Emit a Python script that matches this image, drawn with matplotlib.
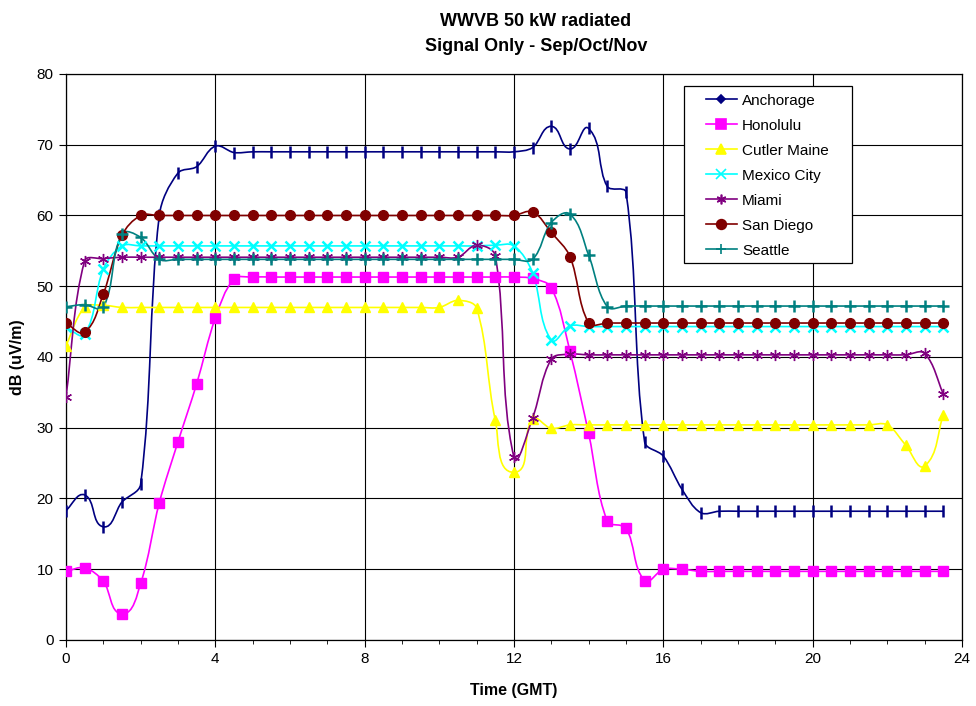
import numpy as np
import matplotlib
matplotlib.use('agg')
import matplotlib.pyplot as plt
from matplotlib.path import Path
from matplotlib.patches import PathPatch, Rectangle
from matplotlib.lines import Line2D

plt.rcParams['font.family'] = ['Liberation Sans', 'DejaVu Sans']

hours = [i * 0.5 for i in range(48)]

anchorage = [18.3, 20.5, 16.0, 19.5, 22.0, 60.0, 66.0, 66.9, 69.8, 68.9,
             69.0, 69.0, 69.0, 69.0, 69.0, 69.0, 69.0, 69.0, 69.0, 69.0,
             69.0, 69.0, 69.0, 69.0, 69.0, 69.6, 72.6, 69.4, 72.3, 64.1,
             63.3, 28.0, 26.0, 21.3, 18.0, 18.2, 18.2, 18.2, 18.2, 18.2,
             18.2, 18.2, 18.2, 18.2, 18.2, 18.2, 18.2, 18.2]
honolulu = [9.7, 10.2, 8.3, 3.7, 8.0, 19.4, 28.0, 36.2, 45.5, 51.0,
            51.3, 51.3, 51.3, 51.3, 51.3, 51.3, 51.3, 51.3, 51.3, 51.3,
            51.3, 51.3, 51.3, 51.3, 51.3, 51.1, 49.8, 40.8, 29.2, 16.8,
            15.8, 8.4, 10.0, 10.0, 9.7, 9.7, 9.7, 9.7, 9.7, 9.7,
            9.7, 9.7, 9.7, 9.7, 9.7, 9.7, 9.7, 9.7]
cutler = [41.6, 47.0, 47.3, 47.0, 47.0, 47.0, 47.0, 47.0, 47.0, 47.0,
          47.0, 47.0, 47.0, 47.0, 47.0, 47.0, 47.0, 47.0, 47.0, 47.0,
          47.0, 48.0, 46.9, 31.1, 23.7, 31.2, 29.9, 30.4, 30.4, 30.4,
          30.4, 30.4, 30.4, 30.4, 30.4, 30.4, 30.4, 30.4, 30.4, 30.4,
          30.4, 30.4, 30.4, 30.4, 30.4, 27.5, 24.6, 31.8]
mexico = [44.2, 43.2, 52.4, 55.7, 55.7, 55.7, 55.7, 55.7, 55.7, 55.7,
          55.7, 55.7, 55.7, 55.7, 55.7, 55.7, 55.7, 55.7, 55.7, 55.7,
          55.7, 55.7, 55.7, 55.8, 55.7, 51.9, 42.4, 44.4, 44.3, 44.3,
          44.3, 44.3, 44.3, 44.3, 44.3, 44.3, 44.3, 44.3, 44.3, 44.3,
          44.3, 44.3, 44.3, 44.3, 44.3, 44.3, 44.3, 44.3]
miami = [34.4, 53.6, 53.9, 54.1, 54.1, 54.1, 54.1, 54.1, 54.1, 54.1,
         54.1, 54.1, 54.1, 54.1, 54.1, 54.1, 54.1, 54.1, 54.1, 54.1,
         54.1, 54.1, 55.8, 54.3, 25.8, 31.4, 39.7, 40.4, 40.3, 40.3,
         40.3, 40.3, 40.3, 40.3, 40.3, 40.3, 40.3, 40.3, 40.3, 40.3,
         40.3, 40.3, 40.3, 40.3, 40.3, 40.3, 40.5, 34.8]
san_diego = [44.8, 43.5, 48.9, 57.2, 60.0, 60.0, 60.0, 60.0, 60.0, 60.0,
             60.0, 60.0, 60.0, 60.0, 60.0, 60.0, 60.0, 60.0, 60.0, 60.0,
             60.0, 60.0, 60.0, 60.0, 60.0, 60.5, 57.6, 54.2, 44.8, 44.8,
             44.8, 44.8, 44.8, 44.8, 44.8, 44.8, 44.8, 44.8, 44.8, 44.8,
             44.8, 44.8, 44.8, 44.8, 44.8, 44.8, 44.8, 44.8]
seattle = [47.1, 47.4, 47.0, 57.4, 56.9, 53.8, 53.8, 53.8, 53.8, 53.8,
           53.8, 53.8, 53.8, 53.8, 53.8, 53.8, 53.8, 53.8, 53.8, 53.8,
           53.8, 53.8, 53.8, 53.8, 53.8, 53.8, 59.0, 60.2, 54.4, 47.1,
           47.2, 47.2, 47.2, 47.2, 47.2, 47.2, 47.2, 47.2, 47.2, 47.2,
           47.2, 47.2, 47.2, 47.2, 47.2, 47.2, 47.2, 47.2]

series = [
    ('Anchorage', anchorage, '#000080', '|', 'D', 8),
    ('Honolulu', honolulu, '#FF00FF', 's', 's', 7),
    ('Cutler Maine', cutler, '#FFFF00', '^', '^', 7),
    ('Mexico City', mexico, '#00FFFF', 'x', 'x', 7),
    ('Miami', miami, '#800080', (6, 2, 0), (6, 2, 0), 8),
    ('San Diego', san_diego, '#800000', 'o', 'o', 7),
    ('Seattle', seattle, '#008080', '+', '+', 8),
]

# rough pixels per data unit, used only to shape the smoothing
SX, SY = 896 / 24.0, 566 / 80.0


def smooth_path(x, y, t=1 / 3.0):
    # smoothed line like a spreadsheet chart: bezier through each point,
    # tangent lengths scaled by the neighbouring segment lengths
    p = np.column_stack([np.asarray(x) * SX, np.asarray(y) * SY])
    n = len(p)
    tang = np.zeros_like(p)
    for i in range(n):
        d = p[min(i + 1, n - 1)] - p[max(i - 1, 0)]
        L = np.hypot(*d)
        if L > 0:
            tang[i] = d / L
    verts = [p[0]]
    codes = [Path.MOVETO]
    for i in range(n - 1):
        seg = np.hypot(*(p[i + 1] - p[i]))
        c1 = p[i] + tang[i] * seg * t
        c2 = p[i + 1] - tang[i + 1] * seg * t
        verts += [c1, c2, p[i + 1]]
        codes += [Path.CURVE4] * 3
    verts = np.array(verts) / [SX, SY]
    return Path(verts, codes)


fig = plt.figure(figsize=(9.76, 7.06), dpi=100)
ax = fig.add_axes([0.0676, 0.0935, 0.918, 0.8017])

handles = []
for name, vals, color, mk, legmk, ms in series:
    ax.add_patch(PathPatch(smooth_path(hours, vals), fill=False,
                           edgecolor=color, lw=1.2, zorder=3))
    mew = 1.8 if mk in ('|', '+', 'x') else 1.0
    ax.plot(hours, vals, linestyle='none', marker=mk, color=color,
            markersize=ms, markeredgewidth=mew, zorder=4)
    handles.append(Line2D([], [], color=color, lw=1.2, marker=legmk,
                          markersize=7 if legmk != 'D' else 4.5,
                          markeredgewidth=1.2, label=name))

ax.set_xlim(0, 24)
ax.set_ylim(0, 80)
ax.set_xticks(range(0, 25, 4))
ax.set_xticks(range(0, 25), minor=True)
ax.set_yticks(range(0, 81, 10))
ax.grid(True, which='major', color='black', lw=0.8)
ax.set_axisbelow(True)
ax.tick_params(axis='both', which='major', labelsize=11, length=5,
               direction='out', color='black', pad=4)
ax.tick_params(axis='x', which='minor', length=3, direction='out')
for sp in ax.spines.values():
    sp.set_color('black')
    sp.set_linewidth(0.9)

ax.set_xlabel('Time (GMT)', fontsize=11.5, fontweight='bold', labelpad=12)
ax.set_ylabel('dB (uV/m)', fontsize=11.5, fontweight='bold', labelpad=8)
fig.suptitle('WWVB 50 kW radiated\nSignal Only - Sep/Oct/Nov', x=0.549, y=0.982,
             fontsize=13, fontweight='bold', linespacing=1.65)

# legend frame drawn separately so the padding can match the original box
ax.add_patch(Rectangle((0.6897, 0.6661), 0.1875, 0.3127, transform=ax.transAxes,
                       facecolor='white', edgecolor='black', lw=0.9,
                       zorder=9, clip_on=False))
leg = ax.legend(handles=handles, loc='upper left',
                bbox_to_anchor=(0.7143, 0.965), fontsize=11, frameon=False,
                handlelength=2.0, borderpad=0, labelspacing=0.72,
                handletextpad=0.35, borderaxespad=0)
leg.set_zorder(10)

fig.savefig('out.png', dpi=100)
